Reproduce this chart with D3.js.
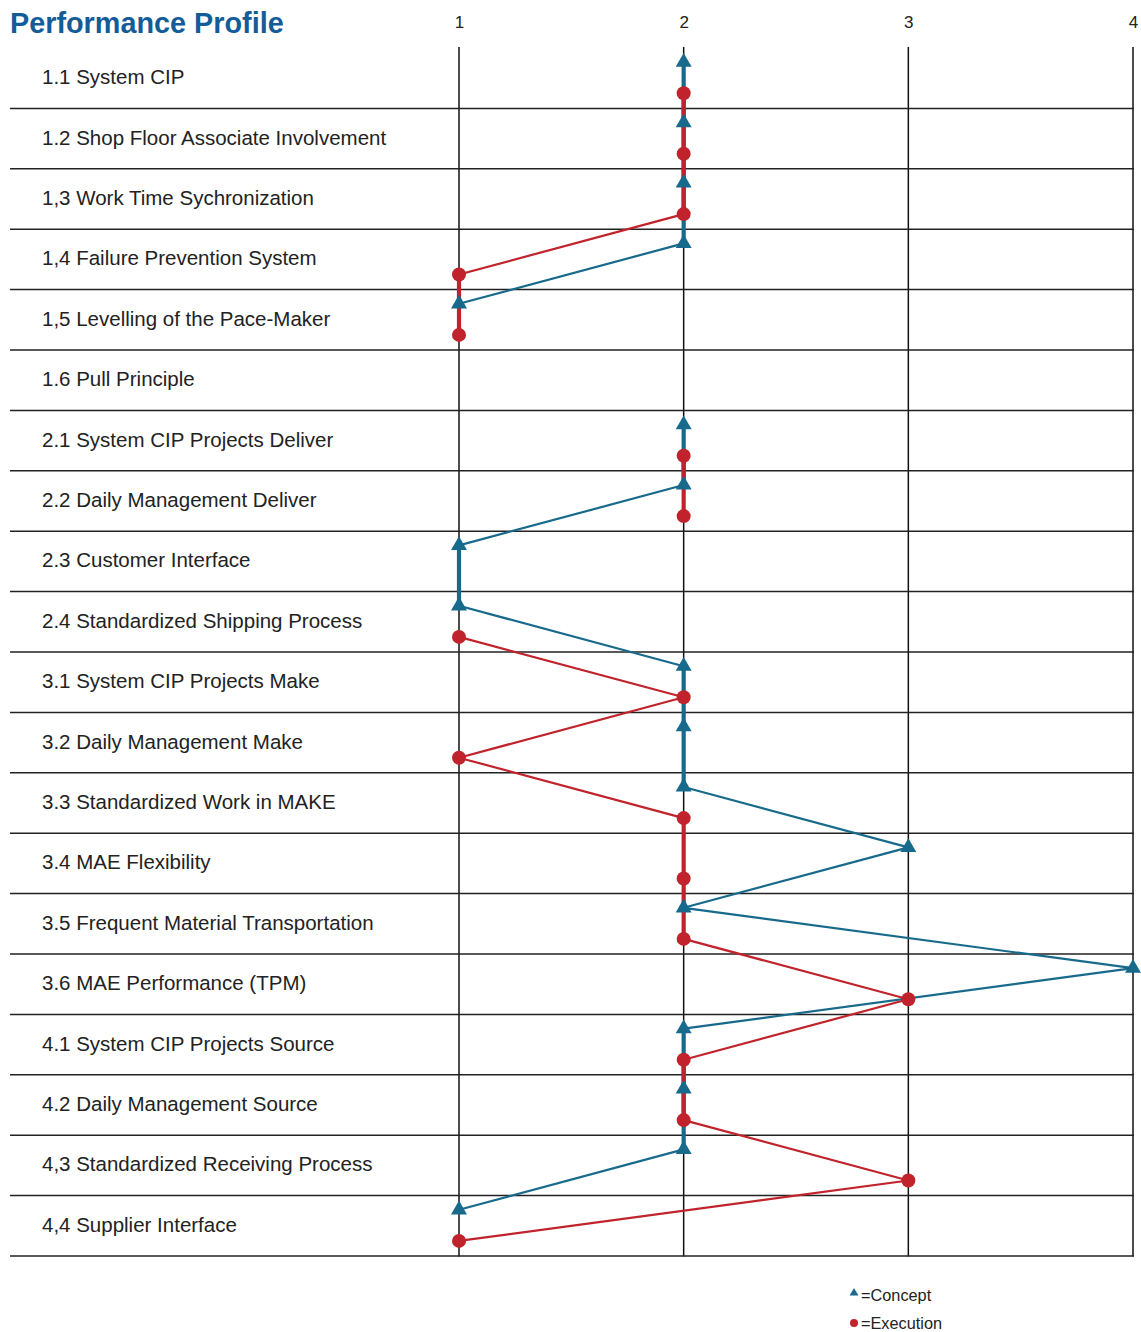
<!DOCTYPE html>
<html><head><meta charset="utf-8">
<script src="https://cdn.jsdelivr.net/npm/d3@7"></script>
<style>body{margin:0;background:#fff;font-family:"Liberation Sans",Arial,sans-serif}</style>
</head><body>
<svg id="chart" width="1141" height="1332"></svg>
<script>
const categories = ["1.1 System CIP","1.2 Shop Floor Associate Involvement","1,3 Work Time Sychronization","1,4 Failure Prevention System","1,5 Levelling of the Pace-Maker","1.6 Pull Principle","2.1 System CIP Projects Deliver","2.2 Daily Management Deliver","2.3 Customer Interface","2.4 Standardized Shipping Process","3.1 System CIP Projects Make","3.2 Daily Management Make","3.3 Standardized Work in MAKE","3.4 MAE Flexibility","3.5 Frequent Material Transportation","3.6 MAE Performance (TPM)","4.1 System CIP Projects Source","4.2 Daily Management Source","4,3 Standardized Receiving Process","4,4 Supplier Interface"];
const concept =   [2,2,2,2,1,null,2,2,1,1,2,2,2,3,2,4,2,2,2,1];
const execution = [2,2,2,1,1,null,2,2,null,1,2,1,2,2,2,3,2,2,3,1];
const tickValues = [1,2,3,4];

const svg = d3.select("#chart");
const blue = "#176a8c", red = "#c0232b";
const x = d3.scaleLinear().domain([1,4]).range([459,1133]);
const y = d3.scaleBand().domain(categories).range([48,1256]).padding(0);
const h = y.bandwidth();

svg.append("text").attr("x",10).attr("y",33).text("Performance Profile")
  .attr("font-size",28.8).attr("font-weight","bold").attr("fill","#135c97");

// top axis
const axis = d3.axisTop(x).tickValues(tickValues).tickSize(0).tickPadding(0).tickFormat(d3.format("d"));
const ag = svg.append("g").attr("transform","translate(0,28)").call(axis);
ag.select(".domain").remove();
ag.selectAll("text").attr("font-size",17).attr("fill","#222").attr("font-family","Liberation Sans, Arial, sans-serif");

// grid verticals
svg.append("g").selectAll("line").data(tickValues).join("line")
  .attr("x1",d=>x(d)).attr("x2",d=>x(d)).attr("y1",47).attr("y2",1256.5)
  .attr("stroke","#111").attr("stroke-width",1.5);
// row separators
svg.append("g").selectAll("line").data(categories).join("line")
  .attr("x1",10).attr("x2",1134).attr("y1",d=>y(d)+h).attr("y2",d=>y(d)+h)
  .attr("stroke","#222").attr("stroke-width",1.5);

// labels
svg.append("g").selectAll("text").data(categories).join("text")
  .attr("x",42).attr("y",d=>y(d)+h/2+6).text(d=>d)
  .attr("font-size",20.5).attr("fill","#222");

const cy = i=>y(categories[i])+h*0.235;
const ey = i=>y(categories[i])+h*0.75;

function segments(vals){
  const segs=[];
  for(let i=0;i<vals.length-1;i++){
    if(vals[i]!=null && vals[i+1]!=null) segs.push({a:{v:vals[i],i},b:{v:vals[i+1],i:i+1},vert:vals[i]===vals[i+1]});
  }
  return segs;
}
const lineGen = yf => d3.line().x(d=>x(d.v)).y(d=>yf(d.i));
function drawSeries(vals, yf, color){
  const lg = lineGen(yf);
  svg.append("g").selectAll("path").data(segments(vals)).join("path")
    .attr("d",s=>lg([s.a,s.b])).attr("fill","none").attr("stroke",color)
    .attr("stroke-width",s=>s.vert?4.2:2.2);
}
drawSeries(concept, cy, blue);
drawSeries(execution, ey, red);

const tri = d3.symbol().type(d3.symbolTriangle).size(110);
svg.append("g").selectAll("path").data(concept.map((v,i)=>({v,i})).filter(d=>d.v!=null)).join("path")
  .attr("d",tri).attr("fill",blue)
  .attr("transform",d=>`translate(${x(d.v)},${cy(d.i)})`);
svg.append("g").selectAll("circle").data(execution.map((v,i)=>({v,i})).filter(d=>d.v!=null)).join("circle")
  .attr("cx",d=>x(d.v)).attr("cy",d=>ey(d.i)).attr("r",7).attr("fill",red);

// legend
const lg = svg.append("g");
lg.append("path").attr("d",d3.symbol().type(d3.symbolTriangle).size(34)).attr("fill",blue).attr("transform","translate(854,1293)");
lg.append("text").attr("x",861).attr("y",1301).text("=Concept").attr("font-size",16.3).attr("fill","#222");
lg.append("circle").attr("cx",854).attr("cy",1323).attr("r",4).attr("fill",red);
lg.append("text").attr("x",861).attr("y",1329).text("=Execution").attr("font-size",16.3).attr("fill","#222");
</script>
</body></html>
